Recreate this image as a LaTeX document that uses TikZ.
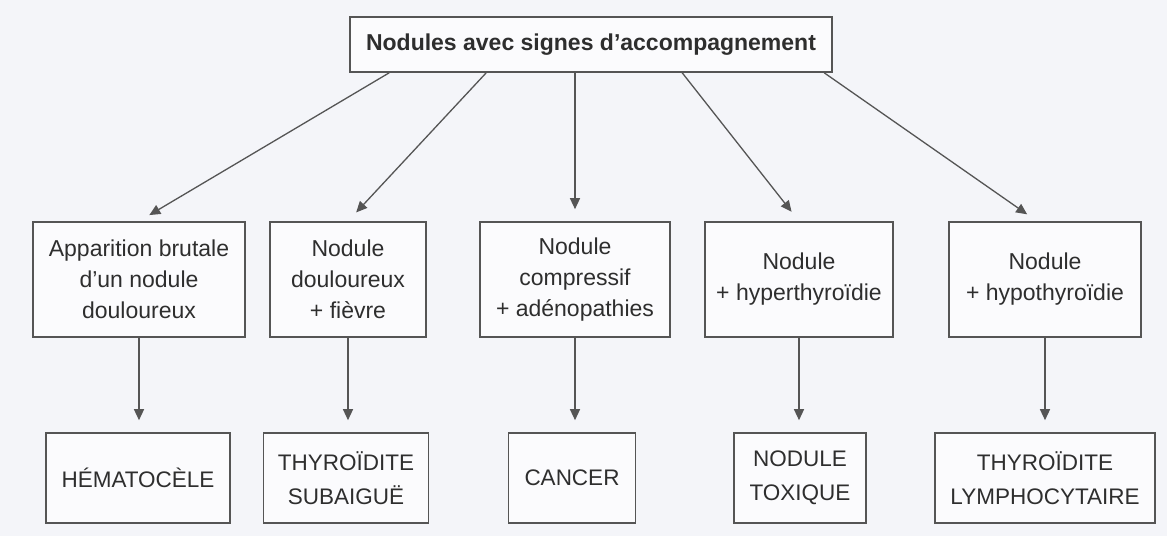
\documentclass[tikz,border=0pt]{standalone}
\usepackage{fontspec}
\setmainfont{Liberation Sans}
\usetikzlibrary{arrows.meta}
\definecolor{bg}{HTML}{F4F5F9}
\definecolor{linec}{HTML}{555555}
\definecolor{txt}{HTML}{2E2E2E}
\begin{document}
\begin{tikzpicture}[x=1pt,y=-1pt,
  box/.style={draw=linec, line width=1.6pt, fill=white!60!bg, inner sep=0pt, align=center, text=txt,
    font=\fontsize{23}{31}\selectfont},
  resbox/.style={box, font=\fontsize{22.5}{34}\selectfont},
  arr/.style={-{Triangle[length=11pt,width=10pt]}, line width=1.3pt, draw=linec, shorten >=12pt}]
\fill[bg] (0,0) rectangle (1167,536);
\useasboundingbox (0,0) rectangle (1167,536);

\node[box, minimum width=482pt, minimum height=55pt, font=\bfseries\fontsize{23}{28}\selectfont] (top) at (591,44.5) {Nodules avec signes d'accompagnement};

\node[box, minimum width=212pt, minimum height=115pt] (a1) at (139,279.5) {Apparition brutale\\d'un nodule\\douloureux};
\node[box, minimum width=156pt, minimum height=115pt] (a2) at (348,279.5) {Nodule\\douloureux\\+ fièvre};
\node[box, minimum width=190pt, minimum height=115pt] (a3) at (575,279.5) {Nodule\\compressif\\+ adénopathies};
\node[box, minimum width=188pt, minimum height=115pt] (a4) at (799,279.5) {Nodule\\+ hyperthyroïdie};
\node[box, minimum width=192pt, minimum height=115pt] (a5) at (1045,279.5) {Nodule\\+ hypothyroïdie};

\node[resbox, minimum width=184pt, minimum height=90pt] (b1) at (138,478) {HÉMATOCÈLE};
\node[resbox, minimum width=165pt, minimum height=90pt] (b2) at (346,478) {THYROÏDITE\\SUBAIGUË};
\node[resbox, minimum width=127pt, minimum height=90pt] (b3) at (572,478) {CANCER};
\node[resbox, minimum width=132pt, minimum height=90pt] (b4) at (800,478) {NODULE\\TOXIQUE};
\node[resbox, minimum width=220pt, minimum height=90pt] (b5) at (1045,478) {THYROÏDITE\\LYMPHOCYTAIRE};

\draw[arr] ([xshift=40pt]top.south west) -- (a1.north);
\draw[arr] ([xshift=137pt]top.south west) -- (a2.north);
\draw[arr] (a3.north |- top.south) -- (a3.north);
\draw[arr] ([xshift=333pt]top.south west) -- (a4.north);
\draw[arr] ([xshift=475pt]top.south west) -- ([xshift=-8pt]a5.north);

\draw[arr] (a1.south) -- (a1.south |- b1.north);
\draw[arr] (a2.south) -- (a2.south |- b2.north);
\draw[arr] (a3.south) -- (a3.south |- b3.north);
\draw[arr] (a4.south) -- (a4.south |- b4.north);
\draw[arr] (a5.south) -- (a5.south |- b5.north);
\end{tikzpicture}
\end{document}
